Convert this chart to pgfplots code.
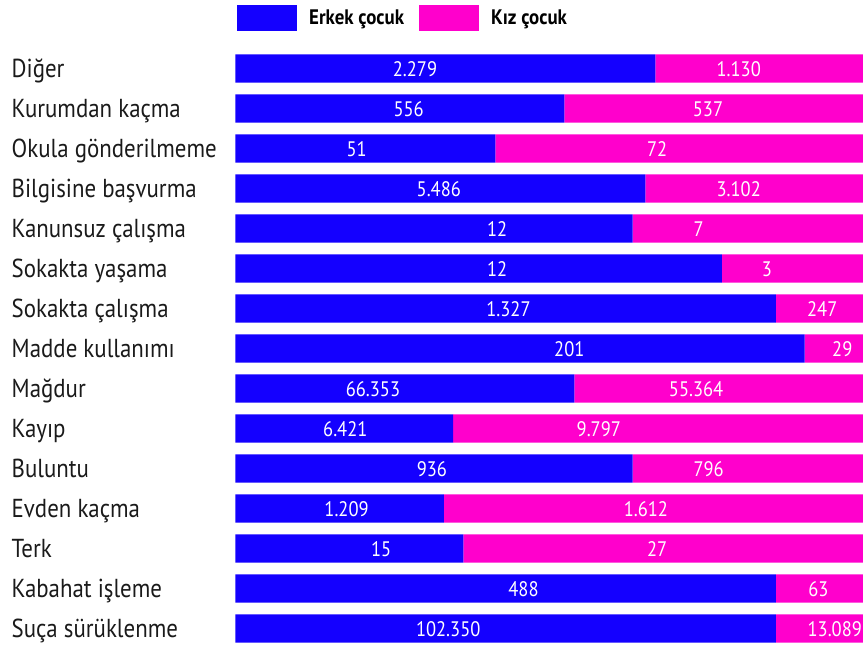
\documentclass[border=0pt]{standalone}
\usepackage{fontspec}
\setmainfont{PT Sans}[FakeStretch=0.88, BoldFeatures={FakeStretch=0.9}]
\usepackage{pgfplots}
\usepackage{pgfplotstable}
\pgfplotsset{compat=1.18}
\definecolor{erkek}{HTML}{1400FF}
\definecolor{kiz}{HTML}{FF00CC}
\definecolor{lbl}{HTML}{1A1A1A}

% e, k : bar lengths (share of the bar, %) ; el, kl : printed counts ; ex, kx : label positions (%)
\pgfplotstableread[col sep=semicolon]{
cat;e;k;el;kl;ex;kx
Diğer;66.9;33.1;2.279;1.130;28.6;80.2
Kurumdan kaçma;52.4;47.6;556;537;27.6;75.3
Okula gönderilmeme;41.4;58.6;51;72;19.3;67.2
Bilgisine başvurma;65.3;34.7;5.486;3.102;32.4;80.2
Kanunsuz çalışma;63.3;36.7;12;7;41.7;73.8
Sokakta yaşama;77.5;22.5;12;3;41.7;84.7
Sokakta çalışma;86.1;13.9;1.327;247;43.5;93.5
Madde kullanımı;90.7;9.3;201;29;53.2;96.7
Mağdur;54.0;46.0;66.353;55.364;21.9;73.4
Kayıp;34.7;65.3;6.421;9.797;17.5;57.9
Buluntu;63.3;36.7;936;796;31.3;75.4
Evden kaçma;33.2;66.8;1.209;1.612;17.7;65.4
Terk;36.3;63.7;15;27;23.2;67.2
Kabahat işleme;86.1;13.9;488;63;45.9;92.9
Suça sürüklenme;86.1;13.9;102.350;13.089;33.9;95.5
}\data

\pgfplotsset{base/.style={
  scale only axis, width=627.5pt, height=600pt,
  at={(235.5pt,596.5pt)}, anchor=north west,
  xmin=0, xmax=100, ymin=-0.5, ymax=14.5, y dir=reverse,
  axis line style={draw=none}, xtick=\empty, major tick length=0pt,
  clip=false},
  vlabel/.style={draw=none, mark=none, nodes near coords,
  point meta=explicit symbolic,
  every node near coord/.append style={anchor=base, inner sep=0pt, yshift=-7.5pt,
    text=white, font=\fontsize{21}{24}\selectfont}}
}

\begin{document}
\begin{tikzpicture}
\begin{axis}[base,
  xbar stacked, bar width=28.4pt,
  ytick={0,...,14},
  yticklabels from table={\data}{cat},
  yticklabel style={anchor=base west, inner sep=0pt, xshift=-224pt, yshift=-8.5pt,
    text=lbl, font=\fontsize{26}{30}\selectfont},
  legend columns=2,
  legend style={draw=none, fill=none, at={(0,1)}, anchor=south west,
    inner sep=0pt, xshift=1.5pt, yshift=17.5pt,
    nodes={inner sep=0pt, font=\fontsize{21}{25}\selectfont\bfseries, text=black},
    /tikz/every odd column/.append style={column sep=12pt},
    /tikz/every even column/.append style={column sep=15pt}},
  legend image code/.code={\fill[#1] (0pt,-13pt) rectangle (60pt,13pt);},
]
\addplot[fill=erkek, draw=none] table[x=e, y expr=\coordindex]{\data};
\addlegendentry{Erkek çocuk}
\addplot[fill=kiz, draw=none] table[x=k, y expr=\coordindex]{\data};
\addlegendentry{Kız çocuk}
\end{axis}
\begin{axis}[base, ytick=\empty]
\addplot[vlabel] table[x=ex, y expr=\coordindex, meta=el]{\data};
\addplot[vlabel] table[x=kx, y expr=\coordindex, meta=kl]{\data};
\end{axis}
\pgfresetboundingbox
\useasboundingbox (0,0) rectangle (863pt,645pt);
\end{tikzpicture}
\end{document}
